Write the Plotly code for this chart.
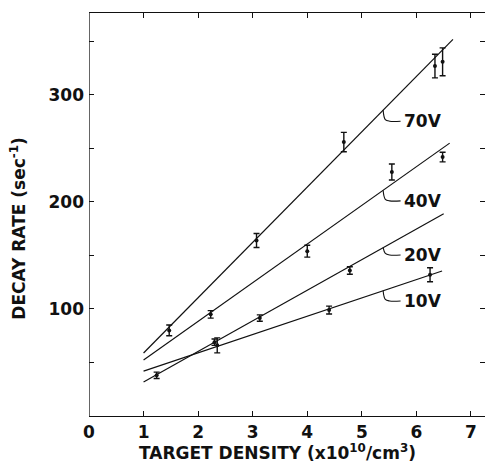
import numpy as np
import plotly.graph_objects as go

# ---- data ----
series_names = ["70V", "40V", "20V", "10V"]

x_70 = [1.47, 3.07, 4.67, 6.34, 6.48]
y_70 = [80, 164, 256, 327, 331]
e_70 = [5, 6.5, 9, 11, 13]

x_40 = [2.23, 4.00, 5.55, 6.48]
y_40 = [95, 154, 228, 242]
e_40 = [3.5, 5.5, 7.5, 4.5]

x_20 = [1.24, 2.30, 3.13, 4.78]
y_20 = [38, 69, 91.5, 136]
e_20 = [3, 3, 3, 3.5]

x_10 = [2.35, 4.40, 6.25]
y_10 = [66, 99, 132]
e_10 = [7, 3.7, 6.5]

# fitted lines: endpoints (x_start, x_end), (y_start, y_end)
fit_x = {"70V": [1.0, 6.67], "40V": [1.0, 6.61], "20V": [1.0, 6.50], "10V": [1.0, 6.47]}
fit_y = {"70V": [58.9, 352], "40V": [52.3, 255], "20V": [31.8, 189], "10V": [42, 135.5]}

# curve labels: leader start x on line, text anchor (x, y)
label_start_x = [5.39, 5.39, 5.39, 5.39]
label_text_x = [5.73, 5.73, 5.73, 5.73]
label_text_y = [275.5, 201, 150.5, 107.5]

x_ticks = [0, 1, 2, 3, 4, 5, 6, 7]
y_ticks = [0, 50, 100, 150, 200, 250, 300, 350]
y_tick_text = ["", "", "100", "", "200", "", "300", ""]

points = {
    "70V": (x_70, y_70, e_70),
    "40V": (x_40, y_40, e_40),
    "20V": (x_20, y_20, e_20),
    "10V": (x_10, y_10, e_10),
}

FONT = "DejaVu Sans"
INK = "#111111"


def font(size):
    return dict(family=FONT, size=size, color=INK, weight="bold")


fig = go.Figure()

for name in series_names:
    fig.add_trace(go.Scatter(
        x=fit_x[name], y=fit_y[name], mode="lines",
        line=dict(color=INK, width=1.2), showlegend=False, hoverinfo="skip"))

for name in series_names:
    xs, ys, es = points[name]
    fig.add_trace(go.Scatter(
        x=xs, y=ys, mode="markers",
        marker=dict(color=INK, size=4),
        error_y=dict(type="data", array=es, visible=True, color=INK,
                     thickness=1.4, width=3),
        showlegend=False, name=name))

# leader lines and labels
for i, name in enumerate(series_names):
    xs0 = label_start_x[i]
    ys0 = float(np.interp(xs0, fit_x[name], fit_y[name]))
    yt = label_text_y[i]
    xt = label_text_x[i]
    fig.add_trace(go.Scatter(
        x=[xs0, xs0 + 0.04, xs0 + 0.12, xt - 0.02],
        y=[ys0, yt + 1.5, yt, yt],
        mode="lines", line=dict(color=INK, width=1.1, shape="spline"),
        showlegend=False, hoverinfo="skip"))
    fig.add_annotation(x=xt, y=yt, text=name, showarrow=False,
                       xanchor="left", yanchor="middle", font=font(17))

# left axis line (right side has ticks only)
fig.add_shape(type="line", xref="x", yref="paper", x0=0, x1=0, y0=0, y1=1,
              line=dict(color=INK, width=1.3))

fig.add_annotation(xref="paper", yref="paper", x=0.475, y=-0.089,
                   text="TARGET DENSITY (x10<sup>10</sup>/cm<sup>3</sup>)",
                   showarrow=False, xanchor="center", yanchor="middle", font=font(17))
fig.add_annotation(xref="paper", yref="paper", x=-0.178, y=0.466,
                   text="DECAY RATE (sec<sup>-1</sup>)", textangle=-90,
                   showarrow=False, xanchor="center", yanchor="middle", font=font(17))

fig.update_xaxes(range=[0, 7.257], tickvals=x_ticks, ticks="inside", ticklen=5,
                 tickwidth=1.2, tickcolor=INK, showline=True, linecolor=INK,
                 linewidth=1.3, mirror="ticks", showgrid=False, zeroline=False,
                 tickfont=font(17), ticklabelstandoff=0, automargin=False)
fig.update_yaxes(range=[0, 376.6], tickvals=y_ticks, ticktext=y_tick_text,
                 ticks="inside", ticklen=5, tickwidth=1.2, tickcolor=INK,
                 showline=False, mirror="ticks", showgrid=False, zeroline=False,
                 tickfont=font(17), ticklabelstandoff=4, automargin=False)

fig.update_layout(width=485, height=467, margin=dict(l=89, r=0, t=13, b=51),
                  plot_bgcolor="white", paper_bgcolor="white")

fig.write_html("out.html")
